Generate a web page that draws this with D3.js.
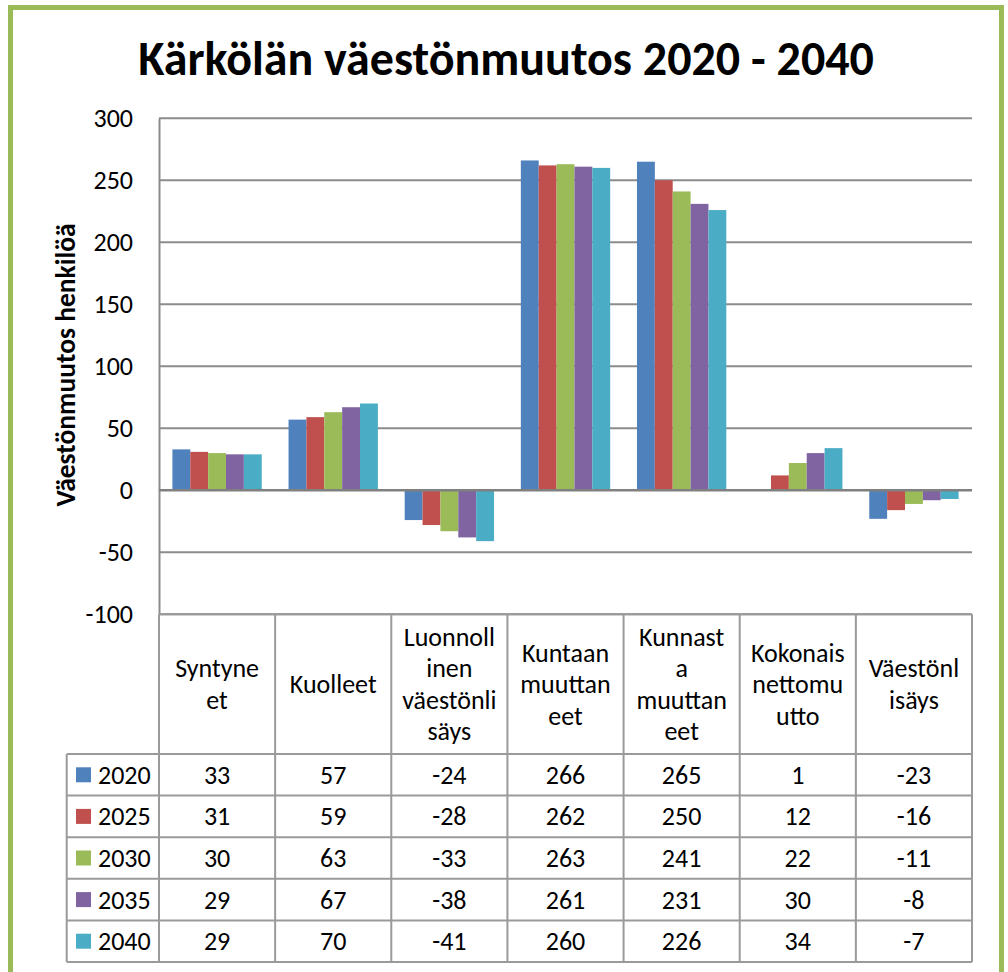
<!DOCTYPE html>
<html>
<head>
<meta charset="utf-8">
<script src="https://cdn.jsdelivr.net/npm/d3@7"></script>
<style>
  body { margin: 0; background: #fff; }
  text { font-family: Carlito, "Open Sans", sans-serif; fill: #000; }
</style>
</head>
<body>
<div id="chart"></div>
<script>
// data
var categories = ["Syntyneet", "Kuolleet", "Luonnollinen väestönlisäys", "Kuntaan muuttaneet",
                  "Kunnasta muuttaneet", "Kokonaisnettomuutto", "Väestönlisäys"]
// header labels wrapped as in the original table
var categoryLines = [["Syntyne", "et"], ["Kuolleet"], ["Luonnoll", "inen", "väestönli", "säys"],
                     ["Kuntaan", "muuttan", "eet"], ["Kunnast", "a", "muuttan", "eet"],
                     ["Kokonais", "nettomu", "utto"], ["Väestönl", "isäys"]]
var years = ["2020", "2025", "2030", "2035", "2040"]
var v2020 = [33, 57, -24, 266, 265, 1, -23]
var v2025 = [31, 59, -28, 262, 250, 12, -16]
var v2030 = [30, 63, -33, 263, 241, 22, -11]
var v2035 = [29, 67, -38, 261, 231, 30, -8]
var v2040 = [29, 70, -41, 260, 226, 34, -7]
var yTicks = [-100, -50, 0, 50, 100, 150, 200, 250, 300]
var colors = ["#4F81BD", "#C0504D", "#9BBB59", "#8064A2", "#4BACC6"]

var series = [v2020, v2025, v2030, v2035, v2040]

var W = 1008, H = 972
var plot = { left: 159, right: 972, top: 118.3, bottom: 614.3 }
var headerBottom = 754, rowH = 41.6, legendLeft = 66.7
var fontSize = "26px"

var svg = d3.select("#chart").append("svg")
    .attr("width", W)
    .attr("height", H)

// green frame
svg.append("rect")
    .attr("x", 10.5).attr("y", 7.5)
    .attr("width", 991).attr("height", 980)
    .attr("fill", "none")
    .attr("stroke", "#9BBB59")
    .attr("stroke-width", 5)

// title
svg.append("text")
    .attr("x", 506).attr("y", 75)
    .attr("text-anchor", "middle")
    .style("font-size", "48px")
    .style("font-weight", "bold")
    .text("Kärkölän väestönmuutos 2020 - 2040")

// scales
var x0 = d3.scaleBand().domain(categories).range([plot.left, plot.right])
var x1 = d3.scaleBand().domain(years).range([0, x0.bandwidth()]).paddingInner(0).paddingOuter(0.75)
var y = d3.scaleLinear().domain([-100, 300]).range([plot.bottom, plot.top])

// gridlines
svg.append("g").selectAll("line")
    .data(yTicks.filter(function (d) { return d != 0 }))
    .join("line")
    .attr("x1", plot.left).attr("x2", plot.right)
    .attr("y1", function (d) { return y(d) }).attr("y2", function (d) { return y(d) })
    .attr("stroke", "#8c8c8c")
    .attr("stroke-width", 2)

// y axis
var yAxis = d3.axisLeft(y).tickValues(yTicks).tickSize(0).tickPadding(26)
    .tickFormat(function (d) { return String(d) })
var gy = svg.append("g")
    .attr("transform", "translate(" + plot.left + ",0)")
    .call(yAxis)
gy.select(".domain").attr("stroke", "#8c8c8c").attr("stroke-width", 2)
gy.selectAll("text").style("font-size", fontSize).attr("font-family", null)

svg.append("text")
    .attr("transform", "translate(75,365) rotate(-90)")
    .attr("text-anchor", "middle")
    .style("font-size", "27.5px")
    .style("font-weight", "bold")
    .text("Väestönmuutos henkilöä")

// bars
var groups = svg.append("g").selectAll("g")
    .data(categories)
    .join("g")
    .attr("transform", function (d) { return "translate(" + x0(d) + ",0)" })

groups.selectAll("rect")
    .data(function (d, i) {
        return years.map(function (yr, j) { return { year: yr, value: series[j][i], color: colors[j] } })
    })
    .join("rect")
    .attr("x", function (d) { return x1(d.year) })
    .attr("width", x1.bandwidth())
    .attr("y", function (d) { return y(Math.max(0, d.value)) })
    .attr("height", function (d) { return Math.abs(y(d.value) - y(0)) })
    .attr("fill", function (d) { return d.color })

// zero line
svg.append("line")
    .attr("x1", plot.left).attr("x2", plot.right)
    .attr("y1", y(0)).attr("y2", y(0))
    .attr("stroke", "#808080")
    .attr("stroke-width", 2.5)

// data table
var table = svg.append("g")
var lineColor = "#9a9a9a"
var tableBottom = headerBottom + rowH * years.length

// horizontal lines
table.append("line")
    .attr("x1", plot.left).attr("x2", plot.right)
    .attr("y1", plot.bottom).attr("y2", plot.bottom)
    .attr("stroke", lineColor).attr("stroke-width", 2)
table.selectAll(".hrow")
    .data(d3.range(years.length + 1))
    .join("line")
    .attr("class", "hrow")
    .attr("x1", legendLeft).attr("x2", plot.right)
    .attr("y1", function (i) { return headerBottom + i * rowH })
    .attr("y2", function (i) { return headerBottom + i * rowH })
    .attr("stroke", lineColor).attr("stroke-width", 2)

// vertical lines
table.selectAll(".vcol")
    .data(categories.concat(["end"]))
    .join("line")
    .attr("class", "vcol")
    .attr("x1", function (d, i) { return plot.left + i * x0.bandwidth() })
    .attr("x2", function (d, i) { return plot.left + i * x0.bandwidth() })
    .attr("y1", plot.bottom).attr("y2", tableBottom)
    .attr("stroke", lineColor).attr("stroke-width", 2)
table.append("line")
    .attr("x1", legendLeft).attr("x2", legendLeft)
    .attr("y1", headerBottom).attr("y2", tableBottom)
    .attr("stroke", lineColor).attr("stroke-width", 2)

// header labels
var headerMid = (plot.bottom + headerBottom) / 2
var lineStep = 31.5
table.selectAll(".head")
    .data(categoryLines)
    .join("text")
    .attr("class", "head")
    .attr("text-anchor", "middle")
    .style("font-size", fontSize)
    .each(function (lines, i) {
        var cx = x0(categories[i]) + x0.bandwidth() / 2
        var first = headerMid - (lines.length - 1) * lineStep / 2 + 9
        d3.select(this).selectAll("tspan")
            .data(lines)
            .join("tspan")
            .attr("x", cx)
            .attr("y", function (l, k) { return first + k * lineStep })
            .text(function (l) { return l })
    })

// rows
years.forEach(function (yr, j) {
    var cy = headerBottom + rowH * j + rowH / 2
    table.append("rect")
        .attr("x", 76).attr("y", cy - 7.5)
        .attr("width", 15).attr("height", 15)
        .attr("fill", colors[j])
    table.append("text")
        .attr("x", 98).attr("y", cy + 9)
        .style("font-size", fontSize)
        .text(yr)
    table.selectAll(".val" + j)
        .data(series[j])
        .join("text")
        .attr("class", "val" + j)
        .attr("x", function (d, i) { return x0(categories[i]) + x0.bandwidth() / 2 })
        .attr("y", cy + 9)
        .attr("text-anchor", "middle")
        .style("font-size", fontSize)
        .text(function (d) { return d })
})
</script>
</body>
</html>
